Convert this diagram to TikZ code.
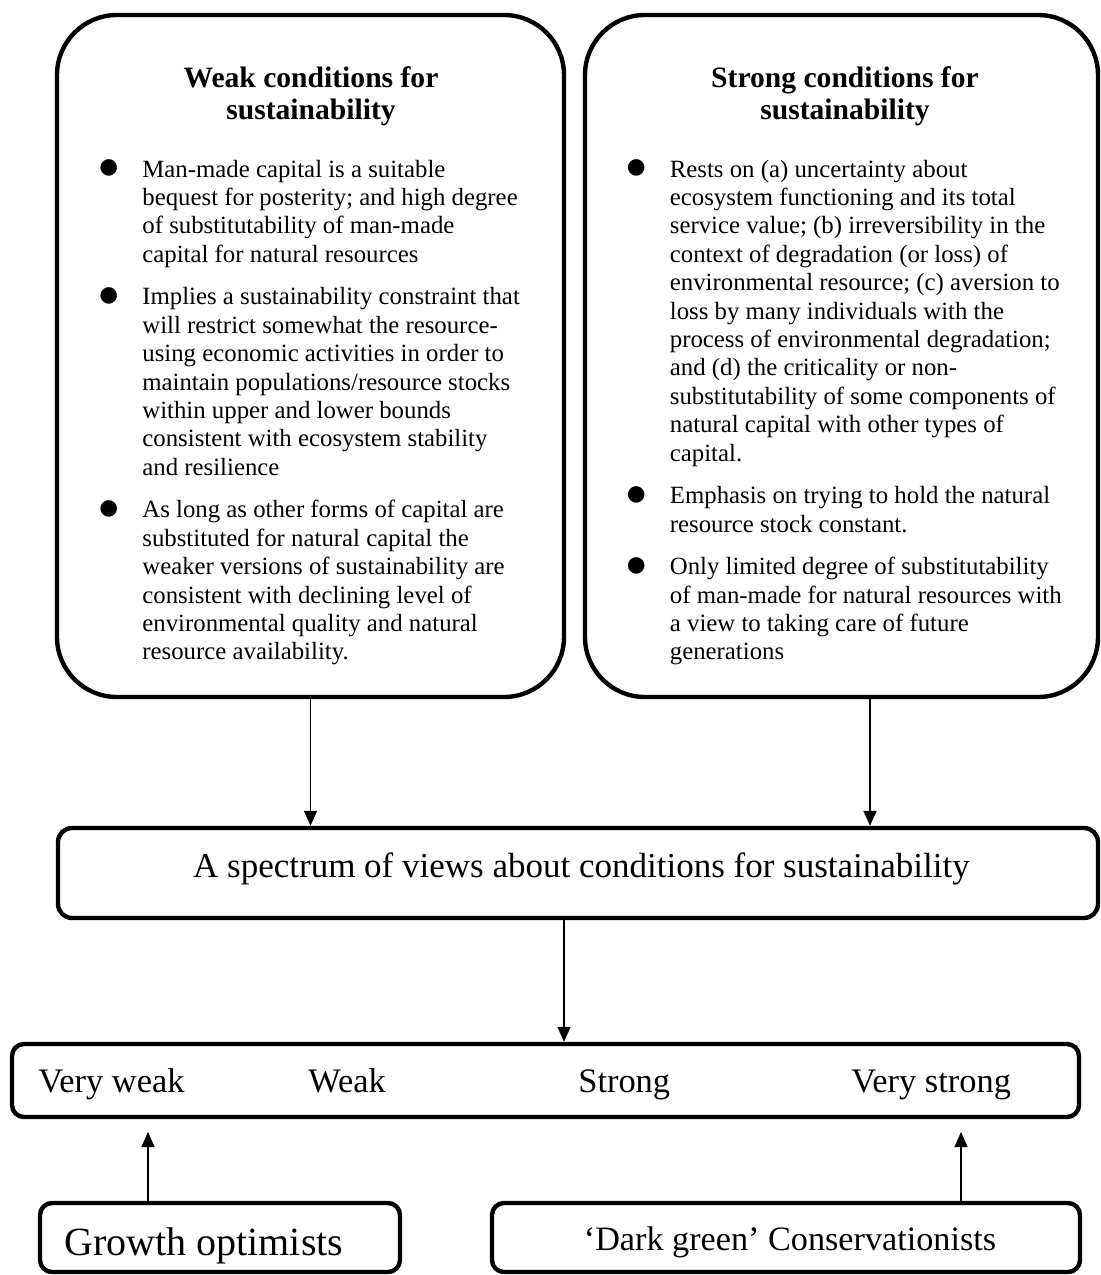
\documentclass[tikz,border=0pt]{standalone}
\usepackage{fontspec}
\setmainfont{Liberation Serif}
\newfontfamily\dejavu{DejaVu Sans}
\usetikzlibrary{arrows.meta}
\newcommand\bodyfont{\fontsize{12.4pt}{14.2pt}\selectfont}
\newcommand\bul[1]{\par\noindent\hangindent=24pt\hangafter=1\makebox[24pt][l]{\hspace{2.5pt}\raisebox{1.6pt}{\dejavu\fontsize{10.8pt}{12pt}\selectfont ●}}#1\par}
\tikzset{
  bigbox/.style={draw, line width=2.2pt, rounded corners=30pt, inner sep=0pt},
  smallbox/.style={draw, line width=2.2pt, rounded corners=6pt, inner sep=0pt},
  txt/.style={inner sep=0pt},
  arr/.style={draw, line width=0.8pt, -{Triangle[width=6.5pt,length=7.5pt]}}
}
\begin{document}
\begin{tikzpicture}[x=0.5pt, y=-0.5pt]
\useasboundingbox (0,0) rectangle (1101,1275);
% boxes
\node[bigbox, minimum width=253.5pt, minimum height=341pt] (weak) at (310.5,356) {};
\node[bigbox, minimum width=256.5pt, minimum height=341pt] (strong) at (841.5,356) {};
\node[smallbox, rounded corners=7pt, minimum width=520pt, minimum height=45pt] (spectrum) at (578,873) {};
\node[smallbox, minimum width=533.5pt, minimum height=36.5pt] (scale) at (545.5,1080.5) {};
\node[smallbox, minimum width=180pt, minimum height=34.5pt] (growth) at (220,1237.5) {};
\node[smallbox, minimum width=294pt, minimum height=34.5pt] (dark) at (786,1237.5) {};
% titles
\node[txt, anchor=base] (weaktitle) at (311,87) {\parbox[t]{240pt}{\centering\fontsize{14.8pt}{16.2pt}\selectfont\bfseries Weak conditions for\\sustainability}};
\node[txt, anchor=base] (strongtitle) at (845,87) {\parbox[t]{240pt}{\centering\fontsize{14.8pt}{16.2pt}\selectfont\bfseries Strong conditions for\\sustainability}};
% bodies
\node[txt, anchor=base west] (weakbody) at (94,177) {\parbox[t]{260pt}{\bodyfont\setlength\parskip{7.1pt}%
\bul{Man-made capital is a suitable\\bequest for posterity; and high degree\\of substitutability of man-made\\capital for natural resources}%
\bul{Implies a sustainability constraint that\\will restrict somewhat the resource-\\using economic activities in order to\\maintain populations/resource stocks\\within upper and lower bounds\\consistent with ecosystem stability\\and resilience}%
\bul{As long as other forms of capital are\\substituted for natural capital the\\weaker versions of sustainability are\\consistent with declining level of\\environmental quality and natural\\resource availability.}}};
\node[txt, anchor=base west] (strongbody) at (621.5,177) {\parbox[t]{260pt}{\bodyfont\setlength\parskip{7.1pt}%
\bul{Rests on (a) uncertainty about\\ecosystem functioning and its total\\service value; (b) irreversibility in the\\context of degradation (or loss) of\\environmental resource; (c) aversion to\\loss by many individuals with the\\process of environmental degradation;\\and (d) the criticality or non-\\substitutability of some components of\\natural capital with other types of\\capital.}%
\bul{Emphasis on trying to hold the natural\\resource stock constant.}%
\bul{Only limited degree of substitutability\\of man-made for natural resources with\\a view to taking care of future\\generations}}};
% spectrum text
\node[txt, anchor=base, font=\fontsize{17.5pt}{20pt}\selectfont] (spectext) at (581.5,877) {A spectrum of views about conditions for sustainability};
% scale texts
\node[txt, anchor=base west, font=\fontsize{17.2pt}{20pt}\selectfont] (vweak) at (38,1092) {Very weak};
\node[txt, anchor=base west, font=\fontsize{17.2pt}{20pt}\selectfont] (wk) at (308,1092) {Weak};
\node[txt, anchor=base west, font=\fontsize{17.2pt}{20pt}\selectfont] (st) at (578,1092) {Strong};
\node[txt, anchor=base west, font=\fontsize{17.2pt}{20pt}\selectfont] (vstrong) at (851,1092) {Very strong};
% bottom texts
\node[txt, anchor=base west, font=\fontsize{20pt}{23pt}\selectfont] (growthtext) at (64,1255) {Growth optimists};
\node[txt, anchor=base, font=\fontsize{17.1pt}{20pt}\selectfont] (darktext) at (790,1250) {‘Dark green’ Conservationists};
% arrows
\draw[arr] (weak.south) -- (weak.south |- spectrum.north);
\draw[arr] ([xshift=14.25pt]strong.south) -- ([xshift=14.25pt]strong.south |- spectrum.north);
\draw[arr] ([xshift=-7pt]spectrum.south) -- ([xshift=-7pt]spectrum.south |- scale.north);
\coordinate (gtip) at (148,1132);
\coordinate (dtip) at (961,1132);
\draw[arr] (gtip |- growth.north) -- (gtip);
\draw[arr] (dtip |- dark.north) -- (dtip);
\end{tikzpicture}
\end{document}
